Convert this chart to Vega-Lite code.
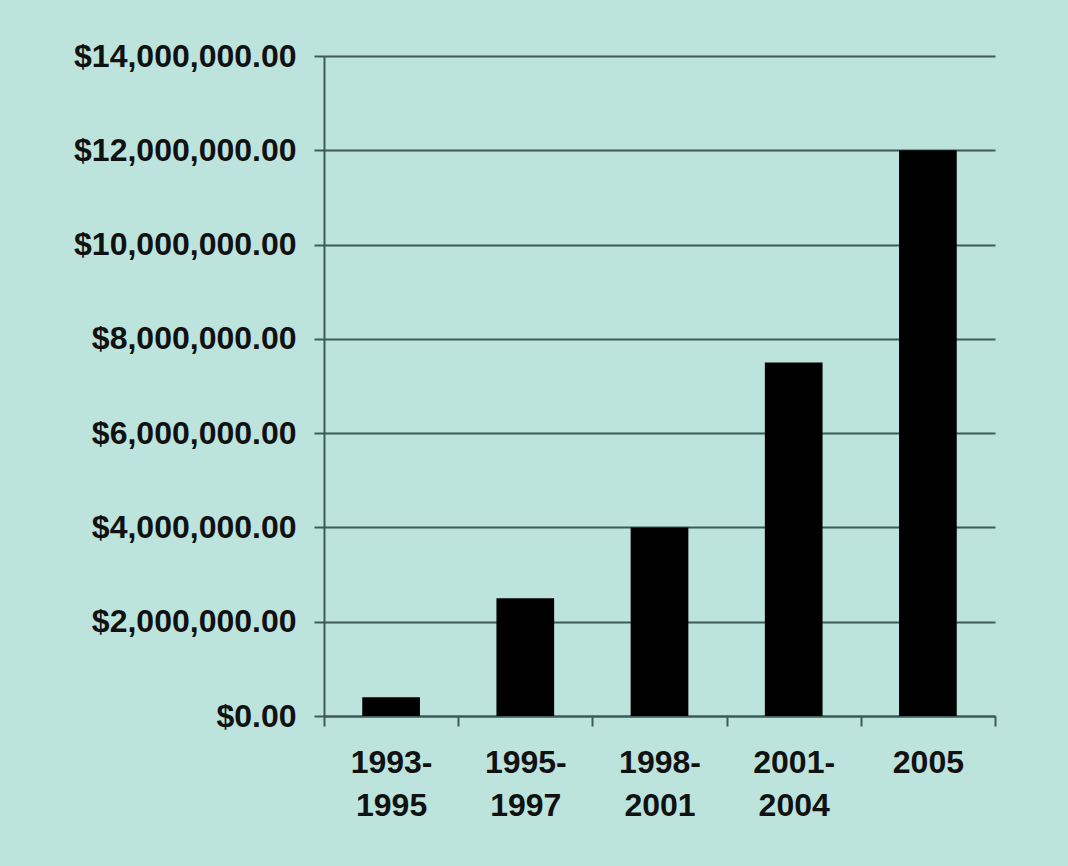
{
  "$schema": "https://vega.github.io/schema/vega-lite/v6.json",
  "autosize": "none",
  "width": 671,
  "height": 660,
  "padding": {"left": 324, "top": 56, "right": 73, "bottom": 150},
  "background": "#bce4dc",
  "data": {"values": [
    {"period": "1993-1995", "amount": 400000},
    {"period": "1995-1997", "amount": 2500000},
    {"period": "1998-2001", "amount": 4000000},
    {"period": "2001-2004", "amount": 7500000},
    {"period": "2005", "amount": 12000000}
  ]},
  "config": {
    "view": {"stroke": null},
    "axis": {"labelFont": "Liberation Sans", "labelFontWeight": "bold", "labelColor": "#111111", "labelLimit": 0, "domainColor": "#3e5a56", "tickColor": "#3e5a56", "gridColor": "#3e5a56"}
  },
  "mark": {"type": "bar", "color": "#000000", "width": {"band": 0.43}},
  "encoding": {
    "x": {
      "field": "period", "type": "nominal", "sort": null,
      "scale": {"paddingInner": 0, "paddingOuter": 0},
      "axis": {
        "title": null, "labelAngle": 0, "tickBand": "extent", "grid": false,
        "labelFontSize": 32, "labelLineHeight": 43, "labelPadding": 21,
        "tickSize": 10, "tickWidth": 2, "domainWidth": 2,
        "labelExpr": "length(datum.label) > 4 ? [slice(datum.label, 0, 5), slice(datum.label, 5)] : datum.label"
      }
    },
    "y": {
      "field": "amount", "type": "quantitative",
      "scale": {"domain": [0, 14000000], "nice": false},
      "axis": {
        "title": null, "values": [0, 2000000, 4000000, 6000000, 8000000, 10000000, 12000000, 14000000],
        "format": "$,.2f", "labelFontSize": 32, "labelPadding": 18,
        "tickSize": 10, "tickWidth": 2, "domainWidth": 2, "gridWidth": 2
      }
    }
  }
}
